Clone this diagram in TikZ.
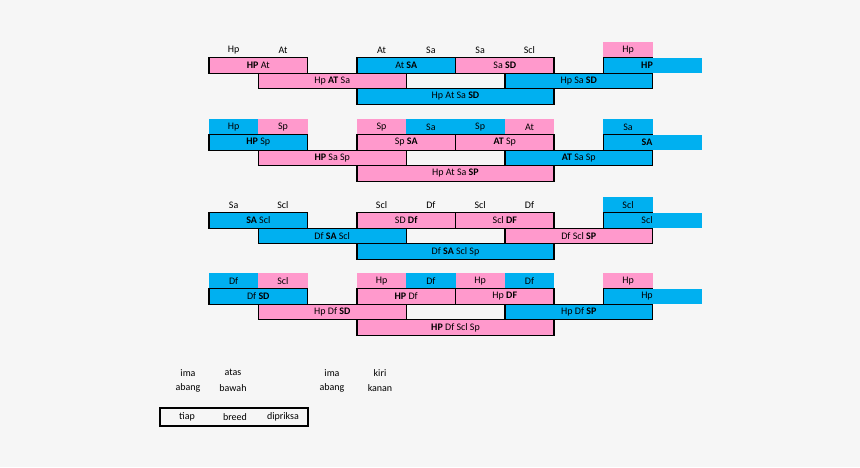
\documentclass[tikz,border=0pt]{standalone}
\usepackage{fontspec}
\setmainfont{Carlito}
\usetikzlibrary{calc}
\definecolor{pinkc}{HTML}{FF99CC}
\definecolor{bluec}{HTML}{00B0F0}
\definecolor{bgc}{HTML}{F6F6F6}
\def\G{0}
\tikzset{
  txt/.style={font=\fontsize{10}{11}\selectfont},
  cellbox/.style={rectangle, inner sep=0pt, outer sep=0pt, minimum height=15.5pt, anchor=north west, txt},
  pk/.style={fill=pinkc},
  bl/.style={fill=bluec},
  bord/.style={draw=black, line width=1.4pt},
  lbl/.style={inner sep=0pt, txt},
}
% plain label above a column
\newcommand\lab[3]{\node[lbl] (#1) at ({209+(#2+0.5)*49.3},{\G+7.75}) {#3};}
% filled label cell above a column
\newcommand\tcell[4]{\node[cellbox,#3,minimum width=49.3pt] (#1) at ({209+#2*49.3},{\G}) {#4};}
% bordered block: name,row,col,ncols,fill,text
\newcommand\rblk[6]{\node[cellbox,bord,#5,minimum width={#4*49.3pt}] (#1) at ({209+#3*49.3},{\G+#2*15.5}) {#6};}
% right end block of row 1
\newcommand\rend[3]{%
  \node[cellbox,#2,minimum width=98.6pt] (#1) at ({209+8*49.3},{\G+15.5}) {};
  \node[lbl] (#1t) at ({647},{\G+23.25}) {#3};
  \draw[bord] ($(#1.north west)+(49.3,0)$) -- (#1.north west) -- (#1.south west) -- ($(#1.south west)+(49.3,0)$);
}
\begin{document}
\begin{tikzpicture}[x=1pt,y=-1pt]
\path[fill=bgc] (0,0) rectangle (860,467);
\useasboundingbox (0,0) rectangle (860,467);

% ---------------- group 1
\def\G{42.2}
\lab{a0}{0}{Hp}\lab{a1}{1}{At}\lab{a3}{3}{At}\lab{a4}{4}{Sa}\lab{a5}{5}{Sa}\lab{a6}{6}{Scl}
\tcell{a8}{8}{pk}{Hp}
\rblk{a1a}{1}{0}{2}{pk}{\textbf{HP} At}
\rblk{a1b}{1}{3}{2}{bl}{At \textbf{SA}}
\rblk{a1c}{1}{5}{2}{pk}{Sa \textbf{SD}}
\rend{a1d}{bl}{\textbf{HP}}
\rblk{a2a}{2}{1}{3}{pk}{Hp \textbf{AT} Sa}
\rblk{a2b}{2}{6}{3}{bl}{Hp Sa \textbf{SD}}
\rblk{a3a}{3}{3}{4}{bl}{Hp At Sa \textbf{SD}}

% ---------------- group 2
\def\G{119.2}
\tcell{b0}{0}{bl}{Hp}\tcell{b1}{1}{pk}{Sp}\tcell{b3}{3}{pk}{Sp}\tcell{b4}{4}{bl}{Sa}
\tcell{b5}{5}{bl}{Sp}\tcell{b6}{6}{pk}{At}\tcell{b8}{8}{bl}{Sa}
\rblk{b1a}{1}{0}{2}{bl}{\textbf{HP} Sp}
\rblk{b1b}{1}{3}{2}{pk}{Sp \textbf{SA}}
\rblk{b1c}{1}{5}{2}{pk}{\textbf{AT} Sp}
\rend{b1d}{bl}{\textbf{SA}}
\rblk{b2a}{2}{1}{3}{pk}{\textbf{HP} Sa Sp}
\rblk{b2b}{2}{6}{3}{bl}{\textbf{AT} Sa Sp}
\rblk{b3a}{3}{3}{4}{pk}{Hp At Sa \textbf{SP}}

% ---------------- group 3
\def\G{197.2}
\lab{c0}{0}{Sa}\lab{c1}{1}{Scl}\lab{c3}{3}{Scl}\lab{c4}{4}{Df}\lab{c5}{5}{Scl}\lab{c6}{6}{Df}
\tcell{c8}{8}{bl}{Scl}
\rblk{c1a}{1}{0}{2}{bl}{\textbf{SA} Scl}
\rblk{c1b}{1}{3}{2}{pk}{SD \textbf{Df}}
\rblk{c1c}{1}{5}{2}{pk}{Scl \textbf{DF}}
\rend{c1d}{bl}{Scl}
\rblk{c2a}{2}{1}{3}{bl}{Df \textbf{SA} Scl}
\rblk{c2b}{2}{6}{3}{pk}{Df Scl \textbf{SP}}
\rblk{c3a}{3}{3}{4}{bl}{Df \textbf{SA} Scl Sp}

% ---------------- group 4
\def\G{273.2}
\tcell{d0}{0}{bl}{Df}\tcell{d1}{1}{pk}{Scl}\tcell{d3}{3}{pk}{Hp}\tcell{d4}{4}{bl}{Df}
\tcell{d5}{5}{pk}{Hp}\tcell{d6}{6}{bl}{Df}\tcell{d8}{8}{pk}{Hp}
\rblk{d1a}{1}{0}{2}{bl}{Df \textbf{SD}}
\rblk{d1b}{1}{3}{2}{pk}{\textbf{HP} Df}
\rblk{d1c}{1}{5}{2}{pk}{Hp \textbf{DF}}
\rend{d1d}{bl}{Hp}
\rblk{d2a}{2}{1}{3}{pk}{Hp Df \textbf{SD}}
\rblk{d2b}{2}{6}{3}{bl}{Hp Df \textbf{SP}}
\rblk{d3a}{3}{3}{4}{pk}{\textbf{HP} Df Scl Sp}

% ---------------- legend
\node[lbl] (l1a) at (188,372.7) {ima};
\node[lbl] (l1b) at (188,388) {abang};
\node[lbl] (l2a) at (233,372.7) {atas};
\node[lbl] (l2b) at (233,388) {bawah};
\node[lbl] (l3a) at (332,372.7) {ima};
\node[lbl] (l3b) at (332,388) {abang};
\node[lbl] (l4a) at (380,372.7) {kiri};
\node[lbl] (l4b) at (380,388) {kanan};
\node[rectangle, draw=black, line width=1.5pt, minimum width=148pt, minimum height=17.7pt, inner sep=0pt] (legbox) at (234,416.9) {};
\node[lbl] (l5) at (187,416.9) {tiap};
\node[lbl] (l6) at (235,416.9) {breed};
\node[lbl] (l7) at (283,416.9) {dipriksa};
\end{tikzpicture}
\end{document}
